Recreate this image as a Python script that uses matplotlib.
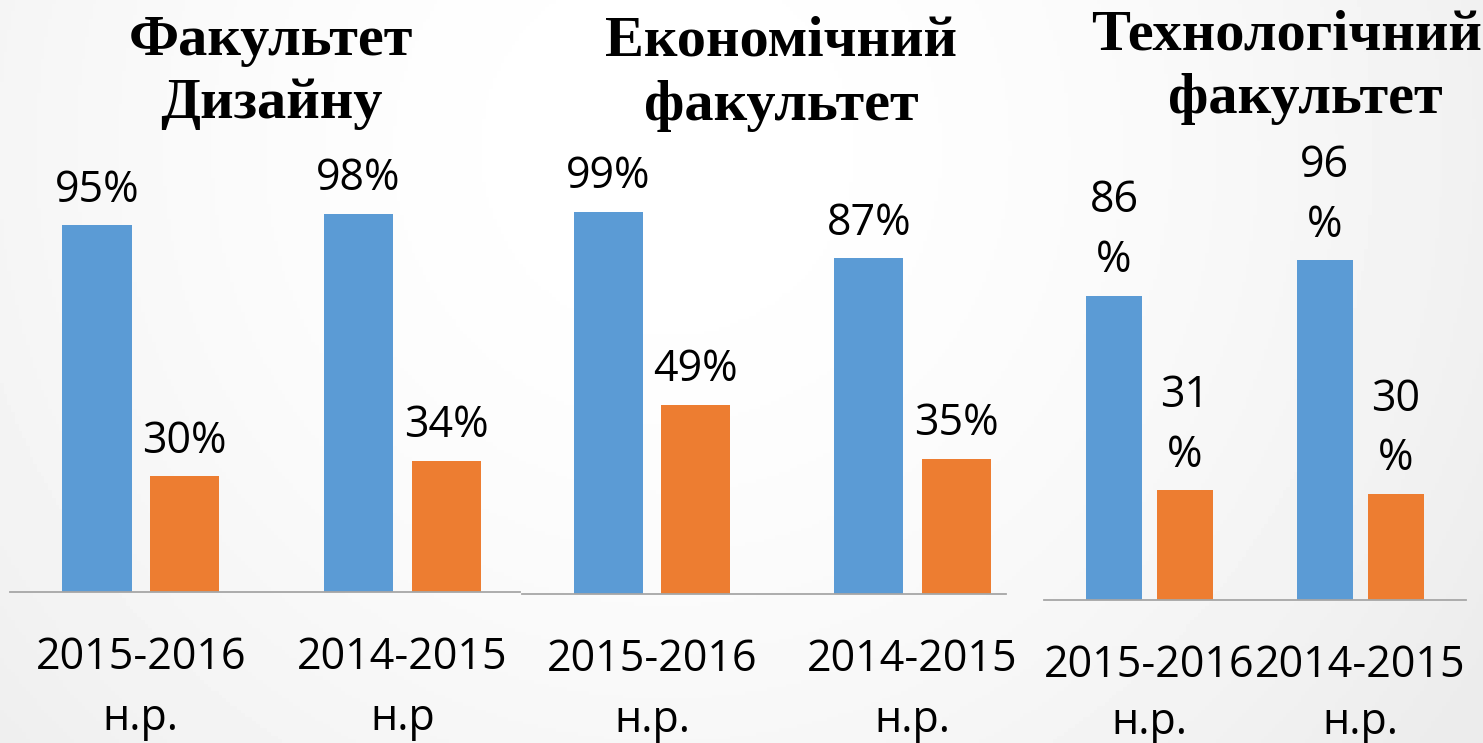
import numpy as np
import matplotlib
matplotlib.use("Agg")
import matplotlib.pyplot as plt

# data
titles = [["Факультет", "Дизайну"],
          ["Економічний", "факультет"],
          ["Технологічний", "факультет"]]
years = [["2015-2016\nн.р.", "2014-2015\nн.р"],
         ["2015-2016\nн.р.", "2014-2015\nн.р."],
         ["2015-2016\nн.р.", "2014-2015\nн.р."]]
blue_vals = [[95, 98], [99, 87], [86, 96]]
orange_vals = [[30, 34], [49, 35], [31, 30]]
blue_labels = [["95%", "98%"], ["99%", "87%"], ["86\n%", "96\n%"]]
orange_labels = [["30%", "34%"], ["49%", "35%"], ["31\n%", "30\n%"]]

BLUE = "#5B9BD5"
ORANGE = "#ED7D31"
W, H = 1483, 743

# panel layout in pixels: left, right, baseline, px per 100%, right xlim,
# tick label pad, tick label line spacing
panels = [(10, 520, 592, 386, 1.449, 31, 1.5),
          (522, 1006, 594, 386, 1.359, 31, 1.5),
          (1044, 1466, 600, 354, 1.502, 31, 1.38)]
title_pos = [(271, 55, 271, 118), (781, 55, 781, 120), (1287, 50, 1305, 113)]

fig = plt.figure(figsize=(W / 100, H / 100), dpi=100)

# soft grey background like the slide
bg = fig.add_axes([0, 0, 1, 1])
yy, xx = np.mgrid[0:1:200j, 0:2:400j]
r = np.sqrt((xx - 0.9) ** 2 + (yy - 0.2) ** 2)
shade = 1 - 0.075 * np.clip(r / 1.3, 0, 1) ** 1.8
bg.imshow(shade, cmap="gray", vmin=0, vmax=1, extent=[0, 1, 0, 1],
          aspect="auto", origin="upper")
bg.axis("off")

label_font = dict(family=["Open Sans", "DejaVu Sans"], size=31)

for i, (left, right, base, h100, xr, pad, ls) in enumerate(panels):
    ax = fig.add_axes([left / W, (H - base) / H, (right - left) / W, h100 / H])
    ax.set_facecolor("none")
    x = np.arange(2)
    off, bw = 0.168, 0.265
    ax.bar(x - off, blue_vals[i], bw, color=BLUE)
    ax.bar(x + off, orange_vals[i], bw, color=ORANGE)
    for j in range(2):
        ax.annotate(blue_labels[i][j], (x[j] - off, blue_vals[i][j]),
                    xytext=(0, 9), textcoords="offset points",
                    ha="center", va="bottom", linespacing=1.45, **label_font)
        ax.annotate(orange_labels[i][j], (x[j] + off, orange_vals[i][j]),
                    xytext=(0, 9), textcoords="offset points",
                    ha="center", va="bottom", linespacing=1.45, **label_font)
    ax.set_xlim(-0.5, xr)
    ax.set_ylim(0, 100)
    ax.set_xticks(x)
    ax.set_xticklabels(years[i], linespacing=ls, **label_font)
    ax.tick_params(axis="x", length=0, pad=pad)
    ax.set_yticks([])
    for s in ["top", "right", "left"]:
        ax.spines[s].set_visible(False)
    ax.spines["bottom"].set_color("#a6a6a6")
    ax.spines["bottom"].set_linewidth(1.3)

    x1, y1, x2, y2 = title_pos[i]
    fig.text(x1 / W, 1 - y1 / H, titles[i][0], ha="center", va="baseline",
             family="Liberation Serif", weight="bold", size=42)
    fig.text(x2 / W, 1 - y2 / H, titles[i][1], ha="center", va="baseline",
             family="Liberation Serif", weight="bold", size=42)

fig.savefig("out.png", dpi=100)
